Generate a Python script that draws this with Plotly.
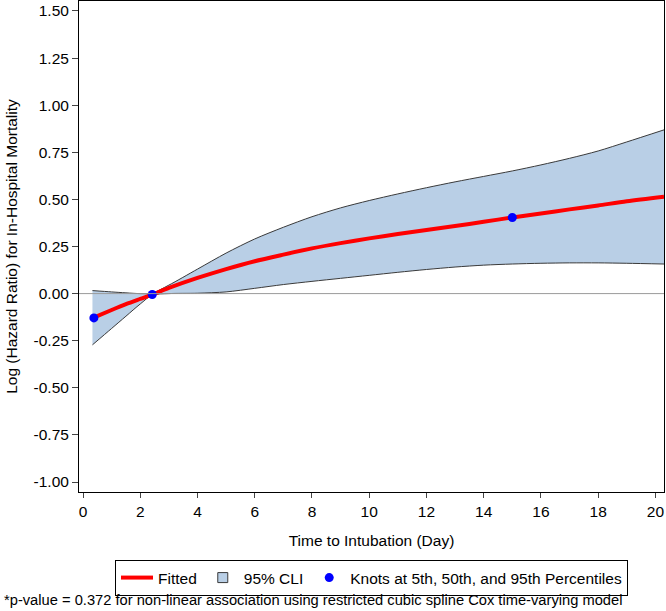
import plotly.graph_objects as go

# values
days = [0.33, 1, 1.5, 2, 2.42, 3, 4, 5, 6, 7, 8, 9, 10, 11, 12, 13, 14, 15, 16, 17, 18, 19, 20.3]
fitted = [-0.13, -0.087, -0.056, -0.028, -0.005, 0.03, 0.083, 0.13, 0.172, 0.207, 0.240, 0.268,
          0.293, 0.316, 0.338, 0.359, 0.381, 0.404, 0.425, 0.447, 0.468, 0.490, 0.514]
upper = [0.016, 0.009, 0.004, 0.0, 0.003, 0.045, 0.13, 0.215, 0.29, 0.352, 0.408, 0.455,
         0.494, 0.529, 0.562, 0.593, 0.622, 0.651, 0.683, 0.718, 0.757, 0.805, 0.869]
lower = [-0.272, -0.185, -0.12, -0.055, -0.008, 0.0, 0.002, 0.009, 0.028, 0.048, 0.065, 0.081,
         0.097, 0.113, 0.128, 0.141, 0.151, 0.157, 0.161, 0.163, 0.163, 0.161, 0.157]
knot_days = [0.38, 2.42, 15.0]
knot_vals = [-0.129, -0.005, 0.404]

x_ticks = [0, 2, 4, 6, 8, 10, 12, 14, 16, 18, 20]
y_ticks = [-1.0, -0.75, -0.5, -0.25, 0.0, 0.25, 0.5, 0.75, 1.0, 1.25, 1.5]
y_labels = ["-1.00", "-0.75", "-0.50", "-0.25", "0.00", "0.25", "0.50", "0.75", "1.00", "1.25", "1.50"]

BAND = "#b9cfe6"
EDGE = "#3a3a3a"
FONT = "Liberation Sans, Arial, sans-serif"
FS = 15.5

fig = go.Figure()

# confidence band
fig.add_trace(go.Scatter(x=days, y=lower, mode="lines",
                         line=dict(color=EDGE, width=1, shape="spline", smoothing=0.8),
                         showlegend=False, hoverinfo="skip"))
fig.add_trace(go.Scatter(x=days, y=upper, mode="lines", fill="tonexty", fillcolor=BAND,
                         line=dict(color=EDGE, width=1, shape="spline", smoothing=0.8),
                         showlegend=False, hoverinfo="skip"))

# fitted curve
fig.add_trace(go.Scatter(x=days, y=fitted, mode="lines", name="Fitted",
                         line=dict(color="#ff0000", width=4, shape="spline", smoothing=0.8)))
# legend swatch for the band
fig.add_trace(go.Scatter(x=[None], y=[None], mode="markers", name="95% CLI",
                         marker=dict(symbol="square", size=10, color=BAND,
                                     line=dict(color=EDGE, width=1))))
# knots
fig.add_trace(go.Scatter(x=knot_days, y=knot_vals, mode="markers",
                         name="Knots at 5th, 50th, and 95th Percentiles",
                         marker=dict(color="#0000ff", size=9)))

# reference line at zero
fig.add_shape(type="line", xref="paper", x0=0, x1=1, yref="y", y0=0, y1=0,
              line=dict(color="#9a9a9a", width=1), layer="above")

fig.add_annotation(text="*p-value = 0.372 for non-linear association using restricted cubic spline Cox time-varying model",
                   xref="paper", yref="paper", x=-0.132, y=-0.22, xanchor="left", yanchor="middle",
                   showarrow=False, font=dict(size=14.7, color="black", family=FONT))

fig.update_xaxes(range=[-0.14, 20.3], tickvals=x_ticks, ticks="outside", ticklen=5,
                 showline=True, linecolor="black", linewidth=1, mirror=True,
                 showgrid=False, zeroline=False, automargin=False,
                 title=dict(text="Time to Intubation (Day)", standoff=16, font=dict(size=FS)),
                 tickfont=dict(size=FS))
fig.update_yaxes(range=[-1.053, 1.553], tickvals=y_ticks, ticktext=y_labels, ticks="outside", ticklen=6,
                 showline=True, linecolor="black", linewidth=1, mirror=True,
                 showgrid=False, zeroline=False, automargin=False,
                 title=dict(text="Log (Hazard Ratio) for In-Hospital Mortality", standoff=12, font=dict(size=FS)),
                 tickfont=dict(size=FS))

fig.update_layout(
    width=666, height=611,
    margin=dict(l=79, r=2, t=1, b=119),
    plot_bgcolor="white", paper_bgcolor="white",
    font=dict(family=FONT, size=FS, color="black"),
    legend=dict(orientation="h", x=0.5, xanchor="center", y=-0.1385, yanchor="top",
                bordercolor="black", borderwidth=1, font=dict(size=FS),
                itemwidth=32, traceorder="normal"),
)

# page body has a default 8px margin; drop it so the figure sits at the window corner
fig.write_html("out.html", config={"displayModeBar": False},
               post_script="document.body.style.margin='0';document.body.style.overflow='hidden';")
